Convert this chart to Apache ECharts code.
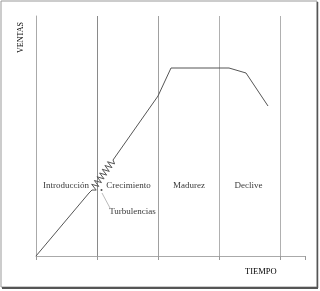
<!DOCTYPE html>
<html>
<head>
<meta charset="utf-8">
<script src="https://cdn.jsdelivr.net/npm/echarts@6/dist/echarts.min.js"></script>
<style>
html,body{margin:0;padding:0;background:#fff;}
#c{width:320px;height:291px;}
</style>
</head>
<body>
<div id="c"></div>
<script>
// Sales curve (time units, sales units)
var curveTime  = [0, 53, 56, 60.2, 55.7, 62.8, 58.4, 65.5, 61.0, 68.1, 63.6, 70.7, 66.2, 73.3, 68.9, 76.0, 71.5, 78.6, 77, 122, 135, 193, 210, 232];
var curveSales = [0, 63, 66, 65.9, 71.75, 69.6, 75.5, 73.4, 79.25, 77.1, 83, 80.9, 86.75, 84.6, 90.5, 88.4, 94.25, 92.1, 96, 160, 188, 188, 183, 150];
// Stage boundaries on the time axis
var stageBounds = [61, 122, 183, 244];
// Stage labels
var stageNames = ['Introducción', 'Crecimiento', 'Madurez', 'Declive'];
var stageLabelTime = [30, 92.5, 153, 212.5];
var stageLabelSales = 70;
// Turbulence annotation
var turbName = 'Turbulencias';
var turbPoint = [65.5, 66];
var turbLabel = [96.5, 44];
var turbLeader = [[66, 63], [74, 48]];
var xTitle = 'TIEMPO';
var yTitle = 'VENTAS';

var chart = echarts.init(document.getElementById('c'), null, {renderer: 'canvas'});
var font = '"Liberation Serif", "DejaVu Serif", serif';
var boundColors = ['#8a8a8a', '#a0a0a0', '#b0b0b0', '#b0b0b0'];

var option = {
  animation: false,
  backgroundColor: '#fff',
  grid: {left: 36, right: 15, top: 16, bottom: 35},
  xAxis: {
    type: 'value', min: 0, max: 269, interval: 61,
    axisLine: {show: true, lineStyle: {color: '#aaa', width: 1}},
    axisTick: {show: true, length: 4, lineStyle: {color: '#999'}},
    axisLabel: {show: false},
    splitLine: {show: false}
  },
  yAxis: {
    type: 'value', min: 0, max: 240,
    axisLine: {show: true, lineStyle: {color: '#aaa', width: 1}},
    axisTick: {show: false},
    axisLabel: {show: false},
    splitLine: {show: false}
  },
  graphic: [
    {type: 'rect', shape: {x: 1, y: 1, width: 316, height: 286}, style: {fill: 'none', stroke: '#999', lineWidth: 1}, z: 100},
    {type: 'line', shape: {x1: 317.5, y1: 2, x2: 317.5, y2: 288}, style: {stroke: '#555', lineWidth: 1.5}, z: 100},
    {type: 'line', shape: {x1: 2, y1: 288, x2: 318, y2: 288}, style: {stroke: '#555', lineWidth: 2}, z: 100},
    {type: 'text', left: 17, top: 22, rotation: Math.PI / 2, style: {text: yTitle, font: '8px ' + font, fill: '#000'}},
    {type: 'text', left: 245, top: 267, style: {text: xTitle, font: '8.5px ' + font, fill: '#000'}}
  ],
  series: [
    {
      type: 'line',
      data: curveTime.map(function (t, i) { return [t, curveSales[i]]; }),
      showSymbol: false,
      lineStyle: {color: '#555', width: 1},
      z: 5,
      markLine: {
        silent: true,
        symbol: 'none',
        label: {show: false},
        data: stageBounds.map(function (b, i) { return {xAxis: b, lineStyle: {color: boundColors[i], width: 1, type: 'solid'}}; })
      }
    },
    {
      type: 'line',
      data: turbLeader,
      showSymbol: false,
      lineStyle: {color: '#bbb', width: 1},
      z: 4
    },
    {
      type: 'scatter',
      data: [turbPoint],
      symbolSize: 2,
      itemStyle: {color: '#222'},
      z: 6
    },
    {
      type: 'scatter',
      symbolSize: 0,
      data: stageNames.map(function (n, i) { return {name: n, value: [stageLabelTime[i], stageLabelSales]}; }).concat([{name: turbName, value: turbLabel}]),
      label: {
        show: true, position: 'inside', formatter: '{b}',
        fontFamily: font, fontSize: 9, color: '#000'
      },
      z: 7
    }
  ]
};
chart.setOption(option);
</script>
</body>
</html>
